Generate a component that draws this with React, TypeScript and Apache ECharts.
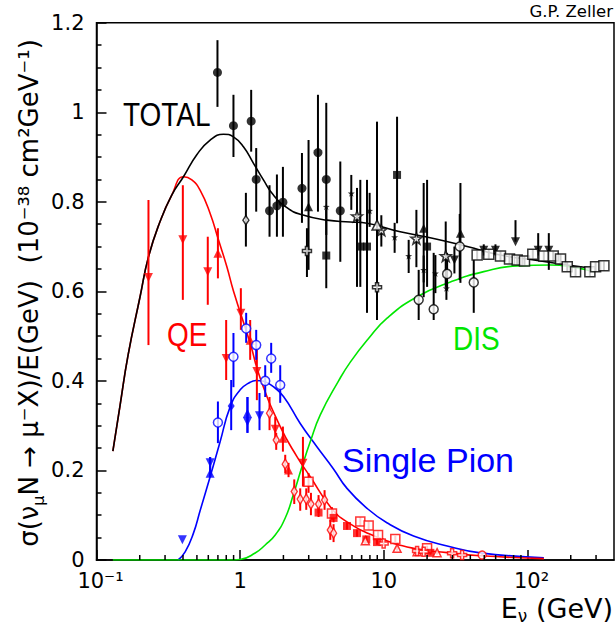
import React, { useEffect, useRef } from "react";
import * as echarts from "echarts";

type P = [number, number, number, number]; // [E, sigma/E, low, high]

const FONT = "DejaVu Sans";
const LABEL_FONT = "Liberation Sans";

// ---------- theory curves [E (GeV), sigma/E] ----------
const totalCurve: [number, number][] = [
  [0.13, 0.243], [0.146, 0.346], [0.166, 0.458], [0.201, 0.588], [0.23, 0.677],
  [0.277, 0.756], [0.334, 0.815], [0.403, 0.856], [0.499, 0.905], [0.618, 0.938],
  [0.765, 0.951], [0.898, 0.945], [1.054, 0.923], [1.238, 0.886], [1.452, 0.849],
  [1.705, 0.815], [2.115, 0.787], [2.618, 0.772], [4.02, 0.759], [5.84, 0.755],
  [7.64, 0.752], [13.0, 0.733], [22.2, 0.718], [38.0, 0.7], [64.9, 0.681],
  [110.8, 0.67], [189, 0.659], [290, 0.651],
];
const qeCurve: [number, number][] = [
  [0.13, 0.243], [0.146, 0.346], [0.166, 0.458], [0.201, 0.588], [0.23, 0.677],
  [0.277, 0.756], [0.334, 0.815], [0.403, 0.856], [0.461, 0.849], [0.526, 0.826],
  [0.618, 0.774], [0.706, 0.715], [0.808, 0.655], [0.898, 0.601], [1.174, 0.484],
  [1.379, 0.406], [1.9, 0.298], [2.484, 0.231], [3.074, 0.186], [4.24, 0.119],
  [5.54, 0.0853], [9.45, 0.0485], [16.1, 0.0261], [27.6, 0.0165], [47.0, 0.0095],
  [130, 0.003],
];
const pionCurve: [number, number][] = [
  [0.37, 0], [0.414, 0.018], [0.473, 0.06], [0.526, 0.11], [0.618, 0.186],
  [0.725, 0.264], [0.852, 0.342], [1.0, 0.38], [1.174, 0.397], [1.293, 0.401],
  [1.453, 0.399], [1.671, 0.389], [2.003, 0.365], [2.618, 0.305], [3.42, 0.253],
  [4.45, 0.204], [5.54, 0.16], [7.64, 0.1155], [10.5, 0.0833], [16.1, 0.0536],
  [27.6, 0.0313], [47.0, 0.016], [130, 0.005],
];
const disCurve: [number, number][] = [
  [0.13, 0], [0.3, 0], [0.6, 0], [0.9, 0], [1.0, 0.001], [1.272, 0.0156], [1.494, 0.0335],
  [1.754, 0.0558], [2.059, 0.0938], [2.341, 0.145], [2.692, 0.208], [3.074, 0.264],
  [3.61, 0.324], [4.842, 0.4], [5.843, 0.442], [7.8, 0.494], [10.53, 0.54],
  [17.03, 0.588], [29.07, 0.621], [49.6, 0.644], [84.8, 0.657], [144.6, 0.659],
  [216, 0.653], [290, 0.644],
];

// ---------- total cross-section data (black) ----------
const totFilledCircles: P[] = [
  [0.695, 1.089, 1.012, 1.161], [0.898, 0.97, 0.9, 1.039], [1.193, 0.98, 0.912, 1.05],
  [1.293, 0.85, 0.778, 0.92], [1.601, 0.78, 0.722, 0.837], [1.802, 0.791, 0.722, 0.861],
  [1.984, 0.799, 0.722, 0.878], [2.692, 0.83, 0.753, 0.909], [3.479, 0.91, 0.778, 1.039],
  [3.975, 0.85, 0.726, 1.021], [4.977, 0.78, 0.666, 0.89],
];
const totOpenDiamonds: P[] = [[1.096, 0.759, 0.7, 0.82]];
const totFilledTriangles: P[] = [
  [2.992, 0.789, 0.648, 0.938], [18.94, 0.741, 0.587, 0.842], [34.13, 0.73, 0.619, 0.842],
];
const totOpenCrosses: P[] = [[2.916, 0.69, 0.632, 0.741], [8.966, 0.609, 0.536, 0.67]];
const totFilledSquares: P[] = [
  [3.975, 0.68, 0.607, 0.782], [12.36, 0.86, 0.752, 0.99], [6.859, 0.7, 0.61, 0.849],
  [7.637, 0.7, 0.552, 0.849], [20.0, 0.7, 0.61, 0.849],
];
const totSmallStars: P[] = [
  [5.936, 0.819, 0.782, 0.86], [3.975, 0.789, 0.789, 0.789], [7.962, 0.78, 0.744, 0.82],
  [11.89, 0.721, 0.686, 0.753], [14.89, 0.679, 0.641, 0.715], [18.94, 0.648, 0.62, 0.68],
  [22.85, 0.64, 0.596, 0.681], [27.26, 0.607, 0.581, 0.632],
];
const totOpenStars: P[] = [
  [6.505, 0.768, 0.61, 0.831], [9.607, 0.737, 0.7, 0.77], [16.85, 0.718, 0.654, 0.782],
  [26.96, 0.679, 0.61, 0.756],
];
const totOpenTriangles: P[] = [[8.966, 0.748, 0.536, 0.979]];
const totOpenCircles: P[] = [
  [17.48, 0.581, 0.536, 0.648], [22.23, 0.56, 0.536, 0.686], [27.57, 0.639, 0.603, 0.686],
  [42.25, 0.62, 0.552, 0.67], [33.75, 0.7, 0.625, 0.773],
];
const totDownTriangles: P[] = [
  [30.99, 0.67, 0.64, 0.7], [82.5, 0.711, 0.711, 0.759], [118.7, 0.692, 0.68, 0.73],
  [140.7, 0.692, 0.648, 0.73], [49.61, 0.692, 0.68, 0.705], [59.84, 0.692, 0.68, 0.705],
];
const totOpenSquares: P[] = [
  [44.61, 0.681, 0.671, 0.691], [53.74, 0.683, 0.673, 0.693], [64.84, 0.679, 0.669, 0.689],
  [74.93, 0.672, 0.662, 0.682], [84.77, 0.67, 0.66, 0.68], [95.3, 0.668, 0.658, 0.678],
  [108.9, 0.683, 0.673, 0.693], [129.9, 0.679, 0.669, 0.689], [151.0, 0.679, 0.669, 0.689],
  [169.8, 0.672, 0.662, 0.682], [189.1, 0.655, 0.645, 0.665], [216.0, 0.644, 0.634, 0.654],
  [271.8, 0.644, 0.634, 0.654], [297.8, 0.655, 0.645, 0.665], [340.2, 0.657, 0.647, 0.667],
];

// ---------- quasi-elastic data (red) ----------
const qeDownTriangles: P[] = [
  [0.23, 0.631, 0.48, 0.804], [0.399, 0.715, 0.581, 0.837], [0.595, 0.644, 0.57, 0.722],
  [1.011, 0.551, 0.514, 0.607], [0.799, 0.45, 0.402, 0.536], [1.307, 0.421, 0.357, 0.469],
  [1.754, 0.292, 0.268, 0.32], [2.735, 0.216, 0.164, 0.275],
];
const qeUpTriangles: P[] = [
  [0.7, 0.685, 0.629, 0.741], [1.174, 0.491, 0.447, 0.536], [1.984, 0.272, 0.242, 0.298],
  [2.171, 0.201, 0.185, 0.217],
];
const qeOpenDiamonds: P[] = [
  [1.601, 0.328, 0.29, 0.364], [1.782, 0.268, 0.246, 0.284], [2.059, 0.214, 0.194, 0.235],
  [2.379, 0.153, 0.125, 0.18], [2.618, 0.136, 0.11, 0.16], [2.884, 0.136, 0.112, 0.16],
  [3.109, 0.125, 0.1, 0.15], [3.512, 0.125, 0.105, 0.145], [3.868, 0.134, 0.112, 0.156],
  [4.24, 0.067, 0.045, 0.09], [4.468, 0.06, 0.04, 0.08],
];
const qeOpenSquares: P[] = [
  [2.992, 0.175, 0.15, 0.194], [4.355, 0.104, 0.09, 0.118], [6.859, 0.086, 0.076, 0.096],
  [7.837, 0.077, 0.068, 0.086], [9.112, 0.056, 0.048, 0.064], [12.02, 0.047, 0.04, 0.054],
  [20.0, 0.026, 0.02, 0.032],
];
const qeFilledSquares: P[] = [
  [3.512, 0.106, 0.096, 0.116], [4.468, 0.094, 0.084, 0.104], [5.541, 0.076, 0.068, 0.084],
  [6.505, 0.06, 0.052, 0.068], [7.551, 0.046, 0.038, 0.054], [8.966, 0.04, 0.034, 0.046],
  [21.09, 0.016, 0.012, 0.02],
];
const qeOpenTriangles: P[] = [
  [7.431, 0.043, 0.036, 0.05], [12.36, 0.026, 0.021, 0.031], [17.04, 0.0185, 0.014, 0.023],
  [23.48, 0.0163, 0.012, 0.02],
];
const qeOpenCrosses: P[] = [
  [9.968, 0.037, 0.031, 0.043], [17.04, 0.02, 0.016, 0.024], [18.94, 0.0185, 0.015, 0.022],
  [29.87, 0.015, 0.012, 0.018], [35.07, 0.011, 0.008, 0.014],
];
const qeOpenCircles: P[] = [[48.35, 0.011, 0.009, 0.013]];

// ---------- single pion data (blue) ----------
const piOpenCircles: P[] = [
  [0.7, 0.307, 0.261, 0.354], [0.898, 0.454, 0.386, 0.507], [1.101, 0.517, 0.485, 0.552],
  [1.293, 0.48, 0.447, 0.514], [1.494, 0.4, 0.364, 0.435], [1.644, 0.45, 0.418, 0.485],
  [1.9, 0.391, 0.351, 0.435],
];
const piFilledDiamonds: P[] = [[0.866, 0.344, 0.29, 0.402]];
const piUpTriangles: P[] = [[1.124, 0.328, 0.284, 0.364], [0.618, 0.194, 0.185, 0.23]];
const piDownTriangles: P[] = [
  [1.124, 0.309, 0.284, 0.364], [1.363, 0.322, 0.29, 0.373], [0.618, 0.217, 0.185, 0.23],
  [0.396, 0.045, 0.045, 0.045],
];

// ---------- axes ----------
const xTickLabels = ["{s|10⁻¹}", "{m|1}", "{m|10}", "{s|10²}"]; // for 0.1, 1, 10, 100
const xDecades = [0.1, 1, 10, 100];
const xMax = 400;

const BLACK = "#000000";
const RED = "#ff0000";
const BLUE = "#0000ff";
const GREEN = "#00e600";

const STAR = "path://M0,-10L2.35,-3.24L9.51,-3.09L3.8,1.24L5.88,8.09L0,4L-5.88,8.09L-3.8,1.24L-9.51,-3.09L-2.35,-3.24Z";
const CROSS = "path://M-1,-3H1V-1H3V1H1V3H-1V1H-3V-1H-1Z";

function errorSeries(data: P[], color: string) {
  return {
    type: "custom",
    silent: true,
    z: 3,
    data: data.map((p) => [p[0], p[2], p[3]]),
    encode: { x: 0, y: [1, 2] },
    renderItem: (_params: any, api: any) => {
      const a = api.coord([api.value(0), api.value(1)]);
      const b = api.coord([api.value(0), api.value(2)]);
      return {
        type: "line",
        shape: { x1: a[0], y1: a[1], x2: b[0], y2: b[1] },
        style: { stroke: color, lineWidth: 2 },
      };
    },
  };
}

function markSeries(data: P[], symbol: string, size: any, color: string, open: boolean, rotate = 0) {
  return {
    type: "scatter",
    silent: true,
    z: 4,
    data: data.map((p) => [p[0], p[1]]),
    symbol,
    symbolSize: size,
    symbolRotate: rotate,
    itemStyle: open
      ? { color: "#ffffff", borderColor: color, borderWidth: 1.5 }
      : { color, borderWidth: 0 },
  };
}

function group(data: P[], symbol: string, size: any, color: string, open: boolean, rotate = 0) {
  return [errorSeries(data, color), markSeries(data, symbol, size, color, open, rotate)];
}

function curve(data: [number, number][], color: string) {
  return {
    type: "line",
    data,
    showSymbol: false,
    symbol: "none",
    smooth: 0.5,
    silent: true,
    z: 2,
    lineStyle: { color, width: 1.6 },
  };
}

export default function App() {
  const ref = useRef<HTMLDivElement>(null);

  useEffect(() => {
    if (!ref.current) return;
    const chart = echarts.init(ref.current, null, { renderer: "svg" });

    const minorTicks: number[] = [];
    xDecades.forEach((d) => {
      for (let k = 2; k <= 9; k++) {
        const v = d * k;
        if (v < xMax) minorTicks.push(v);
      }
    });

    const tickSeries = {
      type: "custom",
      silent: true,
      z: 5,
      data: minorTicks.map((v) => [v, 0]),
      encode: { x: 0, y: 1 },
      renderItem: (_params: any, api: any) => {
        const p = api.coord([api.value(0), 0]);
        return {
          type: "line",
          shape: { x1: p[0], y1: p[1], x2: p[0], y2: p[1] - 5 },
          style: { stroke: BLACK, lineWidth: 1.5 },
        };
      },
    };

    const option: any = {
      animation: false,
      backgroundColor: "#ffffff",
      grid: {
        left: 96.5,
        right: 2,
        top: 22.7,
        bottom: 66,
        show: true,
        borderColor: BLACK,
        borderWidth: 1.5,
      },
      xAxis: {
        type: "log",
        logBase: 10,
        min: 0.1,
        max: xMax,
        axisLine: { lineStyle: { color: BLACK, width: 1.5 } },
        axisTick: { inside: true, length: 10, lineStyle: { color: BLACK, width: 1.5 } },
        minorTick: { show: false },
        splitLine: { show: false },
        axisLabel: {
          color: BLACK,
          fontFamily: FONT,
          fontSize: 21,
          lineHeight: 18,
          margin: 12,
          showMaxLabel: false,
          rich: {
            m: { fontFamily: FONT, fontSize: 21, lineHeight: 18, color: BLACK },
            s: { fontFamily: FONT, fontSize: 21, lineHeight: 18, color: BLACK, padding: [0, 0, 0, 8] },
          },
          formatter: (v: number) => {
            const l = Math.log10(v);
            const n = Math.round(l);
            if (Math.abs(l - n) > 1e-6) return "";
            return xTickLabels[n + 1] ?? "";
          },
        },
      },
      yAxis: {
        type: "value",
        min: 0,
        max: 1.2,
        interval: 0.2,
        axisLine: { show: true, lineStyle: { color: BLACK, width: 1.5 } },
        axisTick: { show: true, inside: true, length: 10, lineStyle: { color: BLACK, width: 1.5 } },
        minorTick: { show: true, splitNumber: 4, length: 5, lineStyle: { color: BLACK, width: 1.5 } },
        splitLine: { show: false },
        minorSplitLine: { show: false },
        axisLabel: { color: BLACK, fontFamily: FONT, fontSize: 21, lineHeight: 18, margin: 12 },
      },
      series: [
        curve(pionCurve, BLUE),
        curve(disCurve, GREEN),
        curve(qeCurve, RED),
        curve(totalCurve, BLACK),
        tickSeries,
        // black: total
        ...group(totFilledCircles, "circle", 9, BLACK, false),
        ...group(totOpenDiamonds, "diamond", [6, 9], BLACK, true),
        ...group(totFilledTriangles, "triangle", 9, BLACK, false),
        ...group(totOpenCrosses, CROSS, 9, BLACK, true),
        ...group(totFilledSquares, "rect", 8, BLACK, false),
        ...group(totSmallStars, STAR, 7, BLACK, false),
        ...group(totOpenStars, STAR, 11, BLACK, true),
        ...group(totOpenTriangles, "triangle", 10, BLACK, true),
        ...group(totOpenCircles, "circle", 9, BLACK, true),
        ...group(totDownTriangles, "triangle", 9, BLACK, false, 180),
        ...group(totOpenSquares, "rect", 10, BLACK, true),
        // red: QE
        ...group(qeDownTriangles, "triangle", 9, RED, false, 180),
        ...group(qeUpTriangles, "triangle", 9, RED, false),
        ...group(qeOpenDiamonds, "diamond", [6, 10], RED, true),
        ...group(qeOpenSquares, "rect", 9, RED, true),
        ...group(qeFilledSquares, "rect", 8, RED, false),
        ...group(qeOpenTriangles, "triangle", 8, RED, true),
        ...group(qeOpenCrosses, CROSS, 9, RED, true),
        ...group(qeOpenCircles, "circle", 8, RED, true),
        // blue: single pion
        ...group(piOpenCircles, "circle", 9, BLUE, true),
        ...group(piFilledDiamonds, "diamond", [7, 10], BLUE, false),
        ...group(piUpTriangles, "triangle", 9, BLUE, false),
        ...group(piDownTriangles, "triangle", 9, BLUE, false, 180),
      ],
      graphic: [
        {
          type: "text",
          x: 613,
          y: 11,
          style: { text: "G.P. Zeller", fontFamily: FONT, fontSize: 16.5, fill: BLACK, align: "right", verticalAlign: "middle" },
        },
        {
          type: "text",
          x: 123,
          y: 115,
          scaleY: 1.2,
          style: { text: "TOTAL", fontFamily: LABEL_FONT, fontSize: 28, fill: BLACK, align: "left", verticalAlign: "middle" },
        },
        {
          type: "text",
          x: 167,
          y: 335,
          scaleY: 1.2,
          style: { text: "QE", fontFamily: LABEL_FONT, fontSize: 28, fill: RED, align: "left", verticalAlign: "middle" },
        },
        {
          type: "text",
          x: 453,
          y: 338.5,
          scaleY: 1.2,
          style: { text: "DIS", fontFamily: LABEL_FONT, fontSize: 28, fill: GREEN, align: "left", verticalAlign: "middle" },
        },
        {
          type: "text",
          x: 342,
          y: 460,
          style: { text: "Single Pion", fontFamily: LABEL_FONT, fontSize: 34, fill: BLUE, align: "left", verticalAlign: "middle" },
        },
        {
          type: "text",
          x: 613,
          y: 609.5,
          style: {
            text: "{n|E}{sub|ν}{n| (GeV)}",
            fill: BLACK,
            align: "right",
            verticalAlign: "middle",
            rich: {
              n: { fontFamily: FONT, fontSize: 27, lineHeight: 30, verticalAlign: "top", fill: BLACK },
              sub: { fontFamily: FONT, fontSize: 17, verticalAlign: "bottom", fill: BLACK },
            },
          },
        },
        {
          type: "text",
          x: 31,
          y: 293,
          rotation: Math.PI / 2,
          style: {
            text: "{n|σ(ν}{sub|μ}{n|N → μ⁻X)/E(GeV)  (10⁻³⁸ cm²GeV⁻¹)}",
            fill: BLACK,
            align: "center",
            verticalAlign: "middle",
            rich: {
              n: { fontFamily: FONT, fontSize: 26, lineHeight: 30, verticalAlign: "top", fill: BLACK },
              sub: { fontFamily: FONT, fontSize: 16, verticalAlign: "bottom", fill: BLACK },
            },
          },
        },
      ],
    };

    chart.setOption(option);
    return () => chart.dispose();
  }, []);

  return (
    <div
      ref={ref}
      style={{ position: "fixed", left: 0, top: 0, width: 616, height: 626, background: "#fff" }}
    />
  );
}
